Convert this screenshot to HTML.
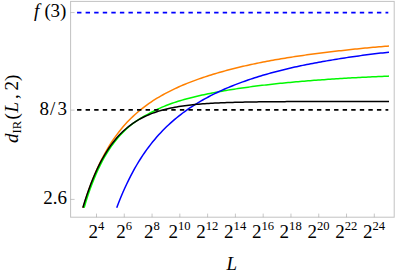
<!DOCTYPE html>
<html><head><meta charset="utf-8"><style>
html,body{margin:0;padding:0;background:#fff;}
svg{display:block;font-family:"Liberation Serif",serif;}
.t text{fill:#000;}
</style></head><body>
<svg width="395" height="278" viewBox="0 0 395 278">
<rect width="395" height="278" fill="#fff"/>
<rect x="70.6" y="1.4" width="323.6" height="215.8" fill="none" stroke="#c2c2c2" stroke-width="1"/>
<g stroke="#999" stroke-width="0.55"><line x1="96.50" y1="217.2" x2="96.50" y2="213.6"/><line x1="124.28" y1="217.2" x2="124.28" y2="213.6"/><line x1="152.06" y1="217.2" x2="152.06" y2="213.6"/><line x1="179.84" y1="217.2" x2="179.84" y2="213.6"/><line x1="207.62" y1="217.2" x2="207.62" y2="213.6"/><line x1="235.40" y1="217.2" x2="235.40" y2="213.6"/><line x1="263.18" y1="217.2" x2="263.18" y2="213.6"/><line x1="290.96" y1="217.2" x2="290.96" y2="213.6"/><line x1="318.74" y1="217.2" x2="318.74" y2="213.6"/><line x1="346.52" y1="217.2" x2="346.52" y2="213.6"/><line x1="374.30" y1="217.2" x2="374.30" y2="213.6"/>
<line x1="70.6" y1="12.55" x2="74.6" y2="12.55"/><line x1="70.6" y1="110.1" x2="74.6" y2="110.1"/><line x1="70.6" y1="199.4" x2="74.6" y2="199.4"/>
</g>
<g fill="none" stroke-width="1.5" stroke-linejoin="round">
<path d="M83.04 207.69 L85.04 201.18 L87.04 195.04 L89.04 189.25 L91.04 183.79 L93.04 178.63 L95.04 173.76 L97.04 169.15 L99.04 164.79 L101.04 160.66 L103.04 156.74 L105.04 153.03 L107.04 149.51 L109.04 146.16 L111.04 142.98 L113.04 139.95 L115.04 137.07 L117.04 134.33 L119.04 131.71 L121.04 129.21 L123.04 126.83 L125.04 124.54 L127.04 122.36 L129.04 120.27 L131.04 118.27 L133.04 116.35 L135.04 114.51 L137.04 112.74 L139.04 111.03 L141.04 109.40 L143.04 107.82 L145.04 106.30 L147.04 104.83 L149.04 103.42 L151.04 102.05 L153.04 100.73 L155.04 99.45 L157.04 98.22 L159.04 97.02 L161.04 95.86 L163.04 94.73 L165.04 93.64 L167.04 92.58 L169.04 91.55 L171.04 90.55 L173.04 89.57 L175.04 88.62 L177.04 87.70 L179.04 86.80 L181.04 85.92 L183.04 85.06 L185.04 84.23 L187.04 83.41 L189.04 82.61 L191.04 81.84 L193.04 81.08 L195.04 80.33 L197.04 79.61 L199.04 78.89 L201.04 78.20 L203.04 77.52 L205.04 76.85 L207.04 76.20 L209.04 75.56 L211.04 74.93 L213.04 74.31 L215.04 73.71 L217.04 73.12 L219.04 72.54 L221.04 71.97 L223.04 71.41 L225.04 70.86 L227.04 70.32 L229.04 69.79 L231.04 69.27 L233.04 68.76 L235.04 68.26 L237.04 67.77 L239.04 67.29 L241.04 66.81 L243.04 66.35 L245.04 65.89 L247.04 65.44 L249.04 64.99 L251.04 64.56 L253.04 64.13 L255.04 63.71 L257.04 63.29 L259.04 62.88 L261.04 62.48 L263.04 62.09 L265.04 61.70 L267.04 61.32 L269.04 60.94 L271.04 60.57 L273.04 60.21 L275.04 59.85 L277.04 59.50 L279.04 59.15 L281.04 58.81 L283.04 58.48 L285.04 58.15 L287.04 57.82 L289.04 57.50 L291.04 57.19 L293.04 56.88 L295.04 56.57 L297.04 56.27 L299.04 55.98 L301.04 55.69 L303.04 55.40 L305.04 55.12 L307.04 54.84 L309.04 54.57 L311.04 54.30 L313.04 54.04 L315.04 53.77 L317.04 53.52 L319.04 53.27 L321.04 53.02 L323.04 52.77 L325.04 52.53 L327.04 52.29 L329.04 52.06 L331.04 51.82 L333.04 51.58 L335.04 51.34 L337.04 51.10 L339.04 50.87 L341.04 50.64 L343.04 50.41 L345.04 50.19 L347.04 49.97 L349.04 49.75 L351.04 49.54 L353.04 49.33 L355.04 49.12 L357.04 48.91 L359.04 48.71 L361.04 48.51 L363.04 48.32 L365.04 48.12 L367.04 47.93 L369.04 47.74 L371.04 47.56 L373.04 47.37 L375.04 47.19 L377.04 47.01 L379.04 46.84 L381.04 46.67 L383.04 46.49 L385.04 46.33 L387.04 46.16 L389.00 46.00" stroke="#ff8000"/>
<path d="M84.11 207.70 L86.11 201.08 L88.11 194.89 L90.11 189.11 L92.11 183.70 L94.11 178.64 L96.11 173.90 L98.11 169.47 L100.11 165.31 L102.11 161.41 L104.11 157.74 L106.11 154.31 L108.11 151.08 L110.11 148.04 L112.11 145.18 L114.11 142.48 L116.11 139.95 L118.11 137.55 L120.11 135.29 L122.11 133.16 L124.11 131.14 L126.11 129.23 L128.11 127.43 L130.11 125.73 L132.11 124.12 L134.11 122.60 L136.11 121.18 L138.11 119.83 L140.11 118.57 L142.11 117.37 L144.11 116.22 L146.11 115.12 L148.11 114.05 L150.11 113.00 L152.11 111.97 L154.11 110.96 L156.11 109.97 L158.11 109.00 L160.11 108.07 L162.11 107.17 L164.11 106.32 L166.11 105.51 L168.11 104.73 L170.11 104.00 L172.11 103.29 L174.11 102.61 L176.11 101.96 L178.11 101.33 L180.11 100.73 L182.11 100.14 L184.11 99.56 L186.11 99.01 L188.11 98.47 L190.11 97.95 L192.11 97.44 L194.11 96.94 L196.11 96.46 L198.11 95.99 L200.11 95.53 L202.11 95.09 L204.11 94.65 L206.11 94.22 L208.11 93.81 L210.11 93.40 L212.11 93.01 L214.11 92.62 L216.11 92.24 L218.11 91.87 L220.11 91.51 L222.11 91.15 L224.11 90.81 L226.11 90.47 L228.11 90.13 L230.11 89.81 L232.11 89.49 L234.11 89.17 L236.11 88.87 L238.11 88.57 L240.11 88.27 L242.11 87.98 L244.11 87.70 L246.11 87.42 L248.11 87.14 L250.11 86.87 L252.11 86.61 L254.11 86.35 L256.11 86.10 L258.11 85.85 L260.11 85.60 L262.11 85.36 L264.11 85.12 L266.11 84.89 L268.11 84.66 L270.11 84.44 L272.11 84.22 L274.11 84.00 L276.11 83.79 L278.11 83.58 L280.11 83.37 L282.11 83.17 L284.11 82.97 L286.11 82.78 L288.11 82.58 L290.11 82.40 L292.11 82.21 L294.11 82.03 L296.11 81.85 L298.11 81.67 L300.11 81.50 L302.11 81.33 L304.11 81.16 L306.11 81.00 L308.11 80.83 L310.11 80.67 L312.11 80.52 L314.11 80.36 L316.11 80.21 L318.11 80.06 L320.11 79.91 L322.11 79.77 L324.11 79.63 L326.11 79.49 L328.11 79.35 L330.11 79.22 L332.11 79.08 L334.11 78.95 L336.11 78.82 L338.11 78.70 L340.11 78.57 L342.11 78.45 L344.11 78.33 L346.11 78.21 L348.11 78.10 L350.11 77.98 L352.11 77.87 L354.11 77.76 L356.11 77.65 L358.11 77.54 L360.11 77.44 L362.11 77.33 L364.11 77.23 L366.11 77.13 L368.11 77.03 L370.11 76.93 L372.11 76.84 L374.11 76.74 L376.11 76.65 L378.11 76.56 L380.11 76.47 L382.11 76.38 L384.11 76.30 L386.11 76.21 L388.11 76.13 L389.00 76.09" stroke="#00f800"/>
<path d="M116.72 207.69 L118.72 202.49 L120.72 197.53 L122.72 192.79 L124.72 188.27 L126.72 183.95 L128.72 179.82 L130.72 175.87 L132.72 172.09 L134.72 168.47 L136.72 165.00 L138.72 161.68 L140.72 158.49 L142.72 155.43 L144.72 152.49 L146.72 149.67 L148.72 146.96 L150.72 144.34 L152.72 141.83 L154.72 139.41 L156.72 137.08 L158.72 134.83 L160.72 132.66 L162.72 130.56 L164.72 128.54 L166.72 126.58 L168.72 124.69 L170.72 122.86 L172.72 121.09 L174.72 119.37 L176.72 117.71 L178.72 116.10 L180.72 114.54 L182.72 113.02 L184.72 111.55 L186.72 110.12 L188.72 108.73 L190.72 107.38 L192.72 106.07 L194.72 104.79 L196.72 103.55 L198.72 102.34 L200.72 101.16 L202.72 100.01 L204.72 98.88 L206.72 97.79 L208.72 96.73 L210.72 95.69 L212.72 94.67 L214.72 93.68 L216.72 92.71 L218.72 91.76 L220.72 90.84 L222.72 89.93 L224.72 89.05 L226.72 88.18 L228.72 87.34 L230.72 86.51 L232.72 85.70 L234.72 84.91 L236.72 84.13 L238.72 83.37 L240.72 82.62 L242.72 81.89 L244.72 81.18 L246.72 80.48 L248.72 79.79 L250.72 79.12 L252.72 78.46 L254.72 77.81 L256.72 77.17 L258.72 76.55 L260.72 75.94 L262.72 75.34 L264.72 74.75 L266.72 74.17 L268.72 73.60 L270.72 73.05 L272.72 72.50 L274.72 71.96 L276.72 71.44 L278.72 70.92 L280.72 70.41 L282.72 69.91 L284.72 69.42 L286.72 68.94 L288.72 68.47 L290.72 68.00 L292.72 67.54 L294.72 67.10 L296.72 66.65 L298.72 66.22 L300.72 65.80 L302.72 65.38 L304.72 64.97 L306.72 64.56 L308.72 64.16 L310.72 63.77 L312.72 63.39 L314.72 63.01 L316.72 62.64 L318.72 62.28 L320.72 61.92 L322.72 61.57 L324.72 61.22 L326.72 60.88 L328.72 60.54 L330.72 60.21 L332.72 59.87 L334.72 59.53 L336.72 59.20 L338.72 58.88 L340.72 58.56 L342.72 58.24 L344.72 57.93 L346.72 57.63 L348.72 57.33 L350.72 57.03 L352.72 56.74 L354.72 56.46 L356.72 56.17 L358.72 55.90 L360.72 55.62 L362.72 55.36 L364.72 55.09 L366.72 54.83 L368.72 54.57 L370.72 54.32 L372.72 54.07 L374.72 53.83 L376.72 53.59 L378.72 53.35 L380.72 53.11 L382.72 52.88 L384.72 52.66 L386.72 52.43 L388.72 52.21 L389.00 52.18" stroke="#0000ff"/>
<path d="M82.82 207.71 L84.82 201.21 L86.82 195.12 L88.82 189.39 L90.82 184.02 L92.82 178.97 L94.82 174.24 L96.82 169.79 L98.82 165.61 L100.82 161.69 L102.82 158.01 L104.82 154.55 L106.82 151.31 L108.82 148.26 L110.82 145.40 L112.82 142.72 L114.82 140.19 L116.82 137.83 L118.82 135.60 L120.82 133.52 L122.82 131.56 L124.82 129.72 L126.82 127.99 L128.82 126.37 L130.82 124.85 L132.82 123.42 L134.82 122.07 L136.82 120.81 L138.82 119.63 L140.82 118.52 L142.82 117.48 L144.82 116.50 L146.82 115.58 L148.82 114.72 L150.82 113.91 L152.82 113.14 L154.82 112.43 L156.82 111.76 L158.82 111.13 L160.82 110.54 L162.82 109.98 L164.82 109.46 L166.82 108.97 L168.82 108.51 L170.82 108.08 L172.82 107.68 L174.82 107.30 L176.82 106.94 L178.82 106.60 L180.82 106.29 L182.82 105.99 L184.82 105.72 L186.82 105.46 L188.82 105.21 L190.82 104.98 L192.82 104.77 L194.82 104.56 L196.82 104.37 L198.82 104.19 L200.82 104.03 L202.82 103.87 L204.82 103.72 L206.82 103.58 L208.82 103.45 L210.82 103.33 L212.82 103.22 L214.82 103.11 L216.82 103.01 L218.82 102.91 L220.82 102.82 L222.82 102.74 L224.82 102.66 L226.82 102.59 L228.82 102.52 L230.82 102.45 L232.82 102.39 L234.82 102.33 L236.82 102.28 L238.82 102.23 L240.82 102.18 L242.82 102.14 L244.82 102.10 L246.82 102.06 L248.82 102.02 L250.82 101.99 L252.82 101.95 L254.82 101.92 L256.82 101.89 L258.82 101.87 L260.82 101.84 L262.82 101.82 L264.82 101.80 L266.82 101.77 L268.82 101.75 L270.82 101.74 L272.82 101.72 L274.82 101.70 L276.82 101.69 L278.82 101.67 L280.82 101.66 L282.82 101.65 L284.82 101.64 L286.82 101.62 L288.82 101.61 L290.82 101.60 L292.82 101.59 L294.82 101.59 L296.82 101.58 L298.82 101.57 L300.82 101.56 L302.82 101.56 L304.82 101.55 L306.82 101.54 L308.82 101.54 L310.82 101.53 L312.82 101.53 L314.82 101.52 L316.82 101.52 L318.82 101.52 L320.82 101.51 L322.82 101.51 L324.82 101.50 L326.82 101.50 L328.82 101.50 L330.82 101.50 L332.82 101.49 L334.82 101.49 L336.82 101.49 L338.82 101.49 L340.82 101.48 L342.82 101.48 L344.82 101.48 L346.82 101.48 L348.82 101.48 L350.82 101.48 L352.82 101.47 L354.82 101.47 L356.82 101.47 L358.82 101.47 L360.82 101.47 L362.82 101.47 L364.82 101.47 L366.82 101.47 L368.82 101.47 L370.82 101.47 L372.82 101.46 L374.82 101.46 L376.82 101.46 L378.82 101.46 L380.82 101.46 L382.82 101.46 L384.82 101.46 L386.82 101.46 L388.82 101.46 L389.00 101.46" stroke="#000"/>
<line x1="77.05" y1="12.55" x2="388.3" y2="12.55" stroke="#0000ff" stroke-width="1.8" stroke-dasharray="4.4 4.168"/>
<line x1="77.05" y1="109.95" x2="388.3" y2="109.95" stroke="#000" stroke-width="1.8" stroke-dasharray="4.4 4.168"/>
</g>
<g class="t">
<text x="88.5" y="238.3" font-size="19">2<tspan dy="-8.1" font-size="12.6">4</tspan></text><text x="116.3" y="238.3" font-size="19">2<tspan dy="-8.1" font-size="12.6">6</tspan></text><text x="144.1" y="238.3" font-size="19">2<tspan dy="-8.1" font-size="12.6">8</tspan></text><text x="168.5" y="238.3" font-size="19">2<tspan dy="-8.1" font-size="12.6">10</tspan></text><text x="196.3" y="238.3" font-size="19">2<tspan dy="-8.1" font-size="12.6">12</tspan></text><text x="224.1" y="238.3" font-size="19">2<tspan dy="-8.1" font-size="12.6">14</tspan></text><text x="251.9" y="238.3" font-size="19">2<tspan dy="-8.1" font-size="12.6">16</tspan></text><text x="279.6" y="238.3" font-size="19">2<tspan dy="-8.1" font-size="12.6">18</tspan></text><text x="307.4" y="238.3" font-size="19">2<tspan dy="-8.1" font-size="12.6">20</tspan></text><text x="335.2" y="238.3" font-size="19">2<tspan dy="-8.1" font-size="12.6">22</tspan></text><text x="363.0" y="238.3" font-size="19">2<tspan dy="-8.1" font-size="12.6">24</tspan></text>
<text x="226.5" y="269.8" font-size="19" font-style="italic">L</text>
<text y="17.3" font-size="19"><tspan x="34" font-style="italic">f</tspan><tspan x="44.5">(</tspan><tspan x="50.5">3</tspan><tspan x="60">)</tspan></text>
<text y="114.5" font-size="19"><tspan x="39.5">8</tspan><tspan x="50">/</tspan><tspan x="57.5">3</tspan></text>
<text x="43.3" y="204" font-size="19">2.6</text>
<text transform="translate(17.8 144) rotate(-90)" font-size="19"><tspan x="1" y="0" font-style="italic">d</tspan><tspan x="10.5" y="2.7" font-size="12.6">IR</tspan><tspan x="24.5" y="0">(</tspan><tspan x="31.5" y="0" font-style="italic">L</tspan><tspan x="45" y="0">,</tspan><tspan x="53.5" y="0">2</tspan><tspan x="63" y="0">)</tspan></text>
</g>
</svg>
</body></html>
